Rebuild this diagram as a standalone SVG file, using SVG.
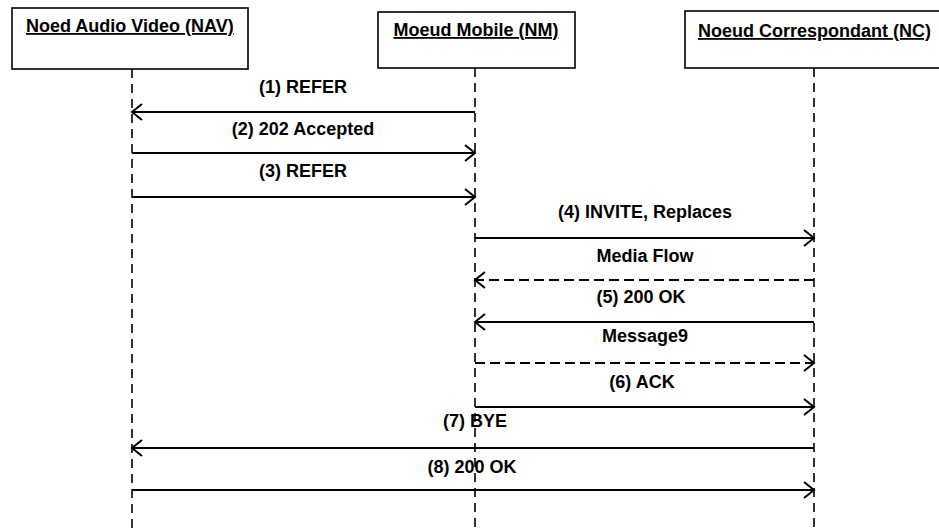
<svg xmlns="http://www.w3.org/2000/svg" width="939" height="530" viewBox="0 0 939 530">
<style>
.box{fill:#fff;stroke:#000;stroke-width:1.6}
.hdr{font-family:"Liberation Sans",Arial,sans-serif;font-weight:bold;font-size:18px;text-decoration:underline;fill:#000}
.lbl{font-family:"Liberation Sans",Arial,sans-serif;font-weight:bold;font-size:18px;fill:#000;text-anchor:middle}
.life{stroke:#000;stroke-width:1.6;stroke-dasharray:9 6;fill:none}
.msg{stroke:#000;stroke-width:2;fill:none;marker-end:url(#arr)}
.dash{stroke-dasharray:10 5}
</style>
<defs>
<marker id="arr" markerUnits="userSpaceOnUse" markerWidth="14" markerHeight="18" refX="11" refY="9" orient="auto">
<path d="M1,1 L11,9 L1,17" fill="none" stroke="#000" stroke-width="2"/>
</marker>
</defs>
<rect width="939" height="530" fill="#fff"/>
<g id="nav">
<rect class="box" x="12" y="8" width="236" height="61"/>
<text class="hdr" x="26" y="32">Noed Audio Video (NAV)</text>
</g>
<g id="nm">
<rect class="box" x="378" y="12" width="197" height="56"/>
<text class="hdr" x="476" y="36" text-anchor="middle">Moeud Mobile (NM)</text>
</g>
<g id="nc">
<rect class="box" x="685" y="11" width="260" height="57"/>
<text class="hdr" x="698" y="37">Noeud Correspondant (NC)</text>
</g>
<g id="lifelines">
<line class="life" x1="132" y1="69" x2="132" y2="530"/>
<line class="life" x1="475" y1="68" x2="475" y2="530"/>
<line class="life" x1="814" y1="68" x2="814" y2="530"/>
</g>
<g id="connectors">
<line class="msg" x1="475" y1="112" x2="132" y2="112"/>
<line class="msg" x1="132" y1="153" x2="475" y2="153"/>
<line class="msg" x1="132" y1="197" x2="475" y2="197"/>
<line class="msg" x1="475" y1="238" x2="814" y2="238"/>
<line class="msg dash" x1="814" y1="280" x2="475" y2="280"/>
<line class="msg" x1="814" y1="322" x2="475" y2="322"/>
<line class="msg dash" x1="475" y1="363" x2="814" y2="363"/>
<line class="msg" x1="475" y1="407" x2="814" y2="407"/>
<line class="msg" x1="814" y1="448" x2="132" y2="448"/>
<line class="msg" x1="132" y1="490" x2="814" y2="490"/>
</g>
<g id="labels">
<text class="lbl" x="303" y="93">(1) REFER</text>
<text class="lbl" x="303" y="135">(2) 202 Accepted</text>
<text class="lbl" x="303" y="177">(3) REFER</text>
<text class="lbl" x="645" y="218">(4) INVITE, Replaces</text>
<text class="lbl" x="645" y="262">Media Flow</text>
<text class="lbl" x="641" y="303">(5) 200 OK</text>
<text class="lbl" x="645" y="342">Message9</text>
<text class="lbl" x="642" y="388">(6) ACK</text>
<text class="lbl" x="475" y="427">(7) BYE</text>
<text class="lbl" x="472" y="473">(8) 200 OK</text>
</g>
</svg>
